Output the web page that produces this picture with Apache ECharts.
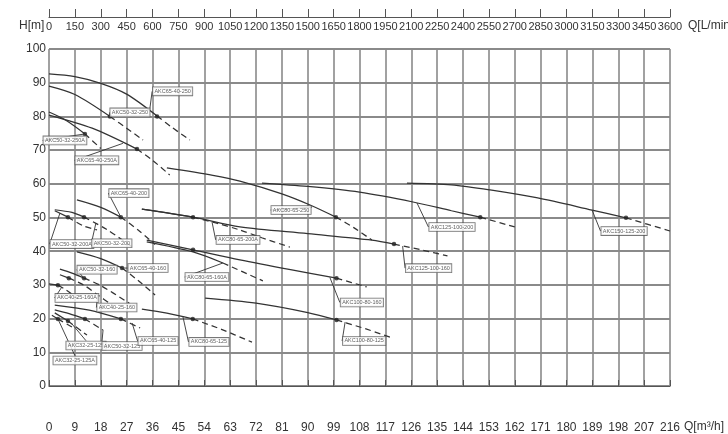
<!DOCTYPE html>
<html>
<head>
<meta charset="utf-8">
<script src="https://cdn.jsdelivr.net/npm/echarts@6/dist/echarts.min.js"></script>
<style>
  html, body { margin: 0; padding: 0; background: #fff; }
  #chart { width: 728px; height: 434px; }
</style>
</head>
<body>
<div id="chart"></div>
<script>
// Pump family performance curves: head H [m] against flow Q [m³/h]
const qTicks = [0, 216, 9];        // m³/h axis: min, max, step
const qlTicks = [0, 3600, 150];    // L/min axis: min, max, step
const hTicks = [0, 100, 10];       // head axis: min, max, step

const modelNames = [
  'AKC65-40-250', 'AKC50-32-250', 'AKC50-32-250A', 'AKC65-40-250A',
  'AKC80-65-250', 'AKC125-100-200', 'AKC150-125-200',
  'AKC65-40-200', 'AKC50-32-200A', 'AKC50-32-200', 'AKC80-65-200A', 'AKC125-100-160',
  'AKC100-80-160', 'AKC80-65-160A', 'AKC65-40-160', 'AKC50-32-160', 'AKC40-25-160A', 'AKC40-25-160',
  'AKC32-25-125A', 'AKC32-25-125', 'AKC50-32-125', 'AKC65-40-125', 'AKC80-65-125', 'AKC100-80-125'
];

// solid part of each curve (Q m³/h, H m)
const solidCurves = [
  [[0, 92.6], [9, 91.8], [18, 89.8], [27, 86.6], [37.6, 80.1]],
  [[0, 89], [9, 86.5], [21.2, 80]],
  [[0, 81.3], [6, 78.8], [12.5, 74.8]],
  [[0, 80.4], [15, 76.5], [30.6, 70.3]],
  [[41, 64.7], [57, 62.5], [66.4, 60.8], [81, 57], [90.8, 53.7], [99.8, 50.1]],
  [[74.1, 60.2], [90, 59.2], [108, 57.5], [126.6, 54.6], [140, 52], [150, 50.1]],
  [[124.5, 60.2], [140, 59.7], [153.4, 58.2], [170, 55.8], [188.9, 52.2], [200.7, 49.9]],
  [[9.7, 55.2], [18, 53], [25, 50.1]],
  [[2, 52], [6.6, 50.1]],
  [[2, 52.3], [8, 51.5], [12.2, 50.1]],
  [[32.3, 52.5], [41, 51.4], [50.1, 50.1]],
  [[32.3, 52.5], [50.1, 50.1], [66.4, 47.2], [90, 45.2], [112.3, 43.3], [120, 42.1]],
  [[34, 43.3], [50.1, 40.4], [66.4, 37.4], [84, 34.5], [100, 32]],
  [[34, 42.8], [50.1, 39.8], [60.5, 36.5]],
  [[9.7, 39.8], [18, 37.8], [25.4, 35]],
  [[3.8, 34.7], [8, 33.5], [12.2, 32]],
  [[0, 30.3], [3.1, 29.9]],
  [[3.8, 33], [6.9, 32]],
  [[1, 21], [3.1, 19.9]],
  [[2, 21.7], [6.6, 19.3]],
  [[2, 22.6], [7, 21.5], [12.5, 19.9]],
  [[2, 24], [14, 22.5], [25, 19.9]],
  [[32.3, 22.8], [41, 21.6], [50, 19.9]],
  [[54.3, 26.1], [72, 24.6], [90, 21.8], [100, 19.6]]
];

// dashed continuation past the rated point
const dashedTails = [
  [[37.6, 80.1], [43, 76.6], [49, 73]],
  [[21.2, 80], [27, 76.5], [32.7, 73]],
  [[12.5, 74.8], [18, 70.5]],
  [[30.6, 70.3], [36, 67], [42, 62.6]],
  [[99.8, 50.1], [106, 47], [112.3, 43.3]],
  [[150, 50.1], [162, 47.2]],
  [[200.7, 49.9], [216, 46]],
  [[25, 50.1], [31, 46.3], [36.9, 42]],
  [[6.6, 50.1], [12, 47.5], [16.7, 46.3]],
  [[12.2, 50.1], [20, 46.5], [29, 41.2]],
  [[50.1, 50.1], [58, 48.4], [66, 46.4], [74, 44], [83.8, 41.2]],
  [[120, 42.1], [130, 40.3], [138.6, 38.6]],
  [[100, 32], [110.5, 29.4]],
  [[60.5, 36.5], [74.4, 31.2]],
  [[25.4, 35], [31, 31.3], [36.9, 27]],
  [[12.2, 32], [18, 29.8], [28, 24.5]],
  [[3.1, 29.9], [6, 28.5], [10, 26]],
  [[6.9, 32], [12, 30], [17, 27], [22, 24]],
  [[3.1, 19.9], [8, 17.5]],
  [[6.6, 19.3], [13.2, 15.1]],
  [[12.5, 19.9], [18.8, 16.6]],
  [[25, 19.9], [31.7, 17.2]],
  [[50, 19.9], [60, 16.8], [70.6, 13]],
  [[100, 19.6], [110, 17], [118.6, 14.5]]
];

// rated duty point of each pump
const ratedPoints = [
  [37.6, 80], [21.2, 80], [12.5, 74.8], [30.6, 70.3],
  [99.8, 50.1], [150, 50.1], [200.7, 49.9],
  [25, 50.1], [6.6, 50.1], [12.2, 50.1], [50.1, 50.1], [120, 42.1],
  [100, 32], [50.1, 40.4], [25.4, 35], [12.2, 32], [3.1, 29.9], [6.9, 32],
  [3.1, 19.9], [6.6, 19.3], [12.5, 19.9], [25, 19.9], [50, 19.9], [100, 19.6]
];

// point on each curve where the name tag's leader attaches
const tagAnchors = [
  [35, 81.8], [21.2, 80], [12.5, 74.8], [25.7, 72],
  [91.5, 53.1], [128, 54.3], [188.9, 52.2],
  [25, 50.1], [3.8, 51.3], [16.3, 48.3], [56.7, 48.7], [123, 41.5],
  [97.7, 32.2], [60.5, 36.5], [25.4, 35], [12.2, 32], [4.5, 29.4], [17, 27],
  [3.1, 19.9], [8, 18.4], [18.8, 16.6], [28.9, 18.7], [46.6, 20.5], [103, 19]
];

// tag box offsets from the anchor, in pixels
const tagShift = [
  [23, -19], [20, -4], [-20, 6.5], [-26, 17],
  [-21, 3], [35, 24], [32, 21],
  [8, -24], [12, 31], [16, 20], [26, 18], [26, 22],
  [32, 25], [-16, 14], [26, 0], [13, -8.5], [15, 11], [19, 12.5],
  [17, 41.5], [14, 21.5], [19, 16], [26, 18], [26, 25], [19, 19]
];

const FONT = "'Liberation Sans', Arial, sans-serif";
const INK = '#333';
const GRID = '#8a8a8a';

const series = [];
modelNames.forEach((name, i) => {
  series.push({
    type: 'line', name: name, data: solidCurves[i], smooth: 0.3,
    showSymbol: false, silent: true,
    lineStyle: { color: INK, width: 1.25 }, z: 3
  });
  series.push({
    type: 'line', data: dashedTails[i], smooth: 0.3,
    showSymbol: false, silent: true,
    lineStyle: { color: INK, width: 1.25, type: [6, 4] }, z: 3
  });
});

series.push({
  type: 'scatter', data: ratedPoints, symbolSize: 4.5, silent: true,
  itemStyle: { color: '#222' }, z: 5
});

series.push({
  type: 'scatter', silent: true, symbolSize: 0, z: 6,
  data: tagAnchors.map((p, i) => ({ value: p, name: modelNames[i] })),
  label: {
    show: true, position: 'inside', formatter: '{b}',
    fontFamily: FONT, fontSize: 5.5, color: '#333',
    backgroundColor: '#fff', borderColor: '#555', borderWidth: 0.8,
    padding: [1.5, 1.5, 0.5, 1.5]
  },
  labelLine: { show: true, smooth: false, lineStyle: { color: INK, width: 0.9 } },
  labelLayout: (p) => ({ dx: tagShift[p.dataIndex][0], dy: tagShift[p.dataIndex][1] })
});

const plain = (v) => String(v);

const chart = echarts.init(document.getElementById('chart'), null, { renderer: 'canvas' });
chart.setOption({
  animation: false,
  backgroundColor: '#fff',
  grid: { left: 49, right: 58, top: 49, bottom: 48 },
  xAxis: [
    {
      type: 'value', position: 'bottom', offset: 31,
      min: qTicks[0], max: qTicks[1], interval: qTicks[2],
      axisLine: { show: true, lineStyle: { color: '#555', width: 1.2 } },
      axisTick: { show: true, inside: true, length: 6, lineStyle: { color: '#555', width: 1 } },
      axisLabel: { color: INK, fontFamily: FONT, fontSize: 12, margin: 5, formatter: plain },
      splitLine: { show: true, lineStyle: { color: GRID, width: 1.6 } }
    },
    {
      type: 'value', position: 'top', offset: 32,
      min: qlTicks[0], max: qlTicks[1], interval: qlTicks[2],
      axisLine: { show: true, lineStyle: { color: '#555', width: 1.2 } },
      axisTick: { show: true, inside: false, length: 8, lineStyle: { color: '#555', width: 1 } },
      axisLabel: { inside: true, color: INK, fontFamily: FONT, fontSize: 11, margin: 4, formatter: plain },
      splitLine: { show: false }
    }
  ],
  yAxis: {
    type: 'value', min: hTicks[0], max: hTicks[1], interval: hTicks[2],
    axisLine: { show: false }, axisTick: { show: false },
    axisLabel: { color: INK, fontFamily: FONT, fontSize: 12, margin: 3, formatter: plain },
    splitLine: { show: true, lineStyle: { color: GRID, width: 1.8 } }
  },
  graphic: [
    { type: 'text', left: 19, top: 20, style: { text: 'H[m]', font: '12px ' + FONT, fill: INK } },
    { type: 'text', left: 688, top: 20, style: { text: 'Q[L/min', font: '12px ' + FONT, fill: INK } },
    { type: 'text', left: 684, top: 421, style: { text: 'Q[m³/h]', font: '12px ' + FONT, fill: INK } }
  ],
  series: series
});
</script>
</body>
</html>
